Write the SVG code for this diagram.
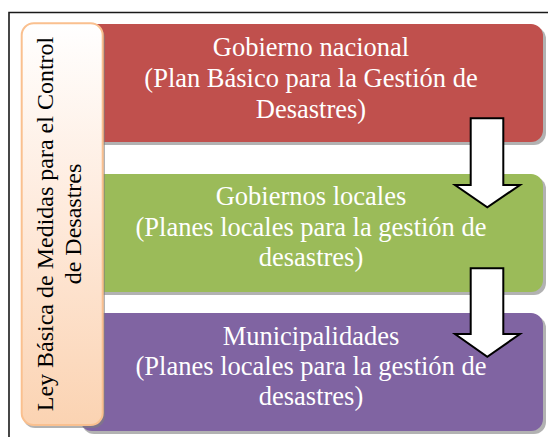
<svg xmlns="http://www.w3.org/2000/svg" width="548" height="437" viewBox="0 0 548 437">
  <defs>
    <linearGradient id="peach" x1="0" y1="0" x2="0" y2="1">
      <stop offset="0" stop-color="#FFFFFF"/>
      <stop offset="0.5" stop-color="#FEE9DA"/>
      <stop offset="1" stop-color="#FBD3B2"/>
    </linearGradient>
  </defs>
  <style>
    .shadow { fill: #7f7f7f; opacity: 0.6; }
    .ht { font-family: 'Liberation Serif', 'DejaVu Serif', serif; font-size: 26.5px; fill: #FFFFFF; text-anchor: middle; }
    .vt { font-family: 'Liberation Serif', 'DejaVu Serif', serif; font-size: 24px; fill: #000000; text-anchor: middle; }
    .arrow { fill: #FFFFFF; stroke: #000000; stroke-width: 2; stroke-linejoin: miter; }
  </style>
  <rect width="548" height="437" fill="#FFFFFF"/>
  <g id="frame">
    <path d="M9 437 V12.5 H548" fill="none" stroke="#1a1a1a" stroke-width="1.6"/>
  </g>

  <g id="gobierno-nacional">
    <rect class="shadow" x="82" y="27" width="464" height="118" rx="12"/>
    <rect x="80" y="24" width="463" height="118" rx="12" fill="#C0504D"/>
    <text class="ht" x="311" y="55.5">Gobierno nacional</text>
    <text class="ht" x="311" y="86.5">(Plan Básico para la Gestión de</text>
    <text class="ht" x="311" y="117.5">Desastres)</text>
  </g>

  <g id="gobiernos-locales">
    <rect class="shadow" x="82" y="177" width="464" height="118" rx="12"/>
    <rect x="80" y="174" width="463" height="118" rx="12" fill="#9BBB59"/>
    <text class="ht" x="311" y="205">Gobiernos locales</text>
    <text class="ht" x="311" y="235.5">(Planes locales para la gestión de</text>
    <text class="ht" x="311" y="266">desastres)</text>
  </g>

  <g id="municipalidades">
    <rect class="shadow" x="82" y="316" width="464" height="118" rx="12"/>
    <rect x="80" y="313" width="463" height="118" rx="12" fill="#8064A2"/>
    <text class="ht" x="311" y="345">Municipalidades</text>
    <text class="ht" x="311" y="375">(Planes locales para la gestión de</text>
    <text class="ht" x="311" y="405">desastres)</text>
  </g>

  <g id="ley-basica">
    <rect class="shadow" x="23" y="26" width="82" height="402" rx="12"/>
    <rect x="21.7" y="23.3" width="81" height="401.7" rx="12" fill="url(#peach)" stroke="#FAC08F" stroke-width="2"/>
    <text class="vt" transform="translate(52.5 224) rotate(-90)" x="0" y="0">Ley Básica de Medidas para el Control</text>
    <text class="vt" transform="translate(80.5 224) rotate(-90)" x="0" y="0">de Desastres</text>
  </g>

  <g id="connectors">
    <polygon class="arrow" points="470.7,118.3 503.3,118.3 503.3,185 520,185 487.3,207.3 455,185 470.7,185"/>
    <polygon class="arrow" points="470.7,268.3 503.3,268.3 503.3,334 520,334 487.3,356.7 455,334 470.7,334"/>
  </g>
</svg>
